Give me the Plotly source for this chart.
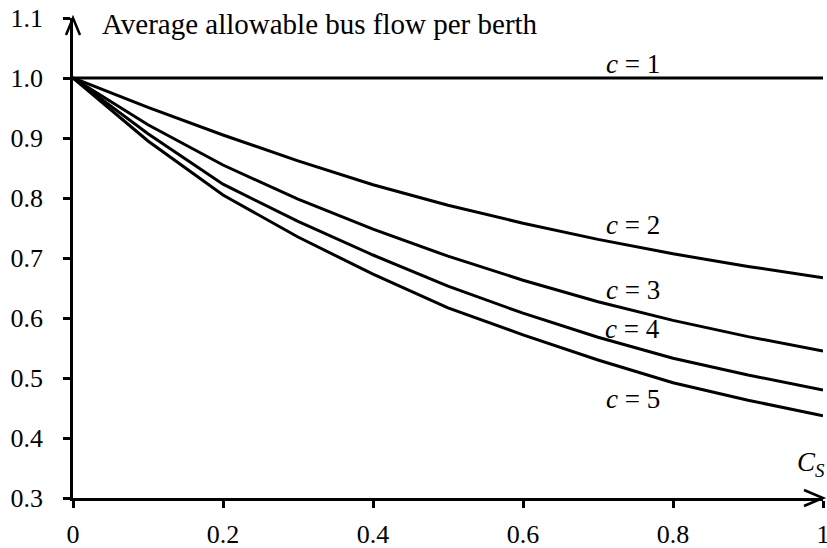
import plotly.graph_objects as go

# Normalised stop capacity C_S on the horizontal axis
cs = [0.0, 0.1, 0.2, 0.3, 0.4, 0.5, 0.6, 0.7, 0.8, 0.9, 1.0]

# Average allowable bus flow per berth for c = 1..5 berths
flow_c1 = [1.0, 1.0, 1.0, 1.0, 1.0, 1.0, 1.0, 1.0, 1.0, 1.0, 1.0]
flow_c2 = [1.0, 0.951, 0.905, 0.862, 0.822, 0.788, 0.758, 0.731, 0.707, 0.686, 0.667]
flow_c3 = [1.0, 0.922, 0.855, 0.798, 0.748, 0.703, 0.663, 0.627, 0.596, 0.569, 0.545]
flow_c4 = [1.0, 0.907, 0.823, 0.761, 0.705, 0.653, 0.608, 0.568, 0.533, 0.505, 0.480]
flow_c5 = [1.0, 0.895, 0.805, 0.735, 0.673, 0.617, 0.572, 0.530, 0.492, 0.463, 0.437]

series = [flow_c1, flow_c2, flow_c3, flow_c4, flow_c5]
series_labels = ["<i>c</i> = 1", "<i>c</i> = 2", "<i>c</i> = 3", "<i>c</i> = 4", "<i>c</i> = 5"]
label_pos = [(0.746, 1.023), (0.746, 0.755), (0.746, 0.647), (0.746, 0.582), (0.746, 0.465)]

x_ticks = [0, 0.2, 0.4, 0.6, 0.8, 1.0]
x_ticktext = ["0", "0.2", "0.4", "0.6", "0.8", "1"]
y_ticks = [0.3, 0.4, 0.5, 0.6, 0.7, 0.8, 0.9, 1.0, 1.1]
y_ticktext = ["0.3", "0.4", "0.5", "0.6", "0.7", "0.8", "0.9", "1.0", "1.1"]

FONT = "Liberation Serif"
FS = 27

fig = go.Figure()
for ys in series:
    fig.add_trace(go.Scatter(
        x=cs, y=ys, mode="lines",
        line=dict(color="black", width=3),
        showlegend=False, hoverinfo="skip",
    ))

for text, (lx, ly) in zip(series_labels, label_pos):
    fig.add_annotation(x=lx, y=ly, xref="x", yref="y", text=text,
                       showarrow=False, font=dict(family=FONT, size=FS, color="black"))

# axis name labels
fig.add_annotation(x=0.036, y=1.09, xref="x", yref="y", xanchor="left",
                   text="Average allowable bus flow per berth", showarrow=False,
                   font=dict(family=FONT, size=29, color="black"))
fig.add_annotation(x=0.984, y=0.357, xref="x", yref="y",
                   text="<i>C<sub>S</sub></i>", showarrow=False,
                   font=dict(family=FONT, size=FS, color="black"))

# open arrowheads at the ends of both axes (paper refs so they are not clipped)
fig.add_shape(type="path", xref="paper", yref="paper", xsizemode="pixel", ysizemode="pixel",
              xanchor=0, yanchor=1, path="M -7,-17 L 0,0 L 7,-17",
              line=dict(color="black", width=2.5))
fig.add_shape(type="path", xref="paper", yref="paper", xsizemode="pixel", ysizemode="pixel",
              xanchor=1, yanchor=0, path="M -19,8 L 0,0 L -19,-8",
              line=dict(color="black", width=2.5))

axis_common = dict(
    showline=True, linecolor="black", linewidth=2.5,
    ticks="outside", ticklen=7, tickwidth=2.5, tickcolor="black",
    showgrid=False, zeroline=False, ticklabeloverflow="allow",
    automargin=False,
    tickfont=dict(family=FONT, size=26, color="black"),
)

fig.update_xaxes(range=[0, 1], tickvals=x_ticks, ticktext=x_ticktext,
                 ticklabelstandoff=4, **axis_common)
fig.update_yaxes(range=[0.3, 1.1], tickvals=y_ticks, ticktext=y_ticktext,
                 ticklabelstandoff=15, **axis_common)

fig.update_layout(
    width=827, height=548,
    margin=dict(l=73, r=4, t=18, b=50),
    plot_bgcolor="white", paper_bgcolor="white",
)

fig.write_html("out.html")
